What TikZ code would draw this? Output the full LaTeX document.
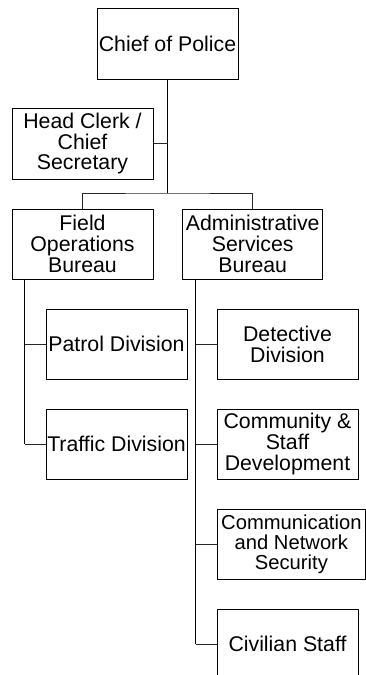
\documentclass[tikz,border=0pt]{standalone}
\usepackage{fontspec}
\setmainfont{Liberation Sans}
\begin{document}
\begin{tikzpicture}[x=1pt,y=-1pt,
  orgbox/.style={draw=black, line width=1pt, fill=white, inner sep=0pt,
    minimum width=141pt, minimum height=70pt, align=center,
    font=\fontsize{21.3}{20.8}\selectfont},
  link/.style={draw=black, line width=1.2pt},
  twig/.style={draw=black!85, line width=1pt}]
\useasboundingbox (0,0) rectangle (366,675);
\clip (0,0) rectangle (366,675);

% top level
\node[orgbox, minimum height=71pt] (chief) at (167.5,43.5) {Chief of Police};
\node[orgbox, minimum height=71pt] (clerk) at (82.5,143.5) {Head Clerk /\\Chief\\Secretary};

% bureaus
\node[orgbox] (field) at (82.5,244) {Field\\Operations\\Bureau};
\node[orgbox, minimum width=140pt] (admin) at (252.7,244) {Administrative\\Services\\Bureau};

% field operations divisions
\node[orgbox] (patrol)  at (116.5,344) {Patrol Division};
\node[orgbox] (traffic) at (116.5,444) {Traffic Division};

% administrative services divisions
\node[orgbox] (detective) at (287.5,344) {Detective\\Division};
\node[orgbox] (community) at (287.5,444) {Community \&\\Staff\\Development};
\node[orgbox, minimum width=148pt, font=\fontsize{20.2}{20}\selectfont]
  (comm) at (291.4,544) {Communication\\and Network\\Security};
\node[orgbox] (civilian) at (287.5,644) {Civilian Staff};

% trunk from the chief
\coordinate (bar) at (167.5,193);
\draw[link] (chief.south) -- (bar);
\draw[twig] (clerk.east) -- (clerk.east -| chief.south);
\draw[twig] (field.north) |- (bar) -| (admin.north);

% field operations branch
\coordinate (ftrunk) at ([xshift=13pt]field.south west);
\draw[link] (ftrunk) -- (ftrunk |- traffic.west);
\draw[twig] (patrol.west) -- (patrol.west -| ftrunk);
\draw[twig] (traffic.west) -- (traffic.west -| ftrunk);

% administrative services branch
\coordinate (atrunk) at ([xshift=13.5pt]admin.south west);
\draw[link] (atrunk) -- (atrunk |- civilian.west);
\draw[twig] (detective.west) -- (detective.west -| atrunk);
\draw[twig] (community.west) -- (community.west -| atrunk);
\draw[twig] (comm.west) -- (comm.west -| atrunk);
\draw[twig] (civilian.west) -- (civilian.west -| atrunk);
\end{tikzpicture}
\end{document}
